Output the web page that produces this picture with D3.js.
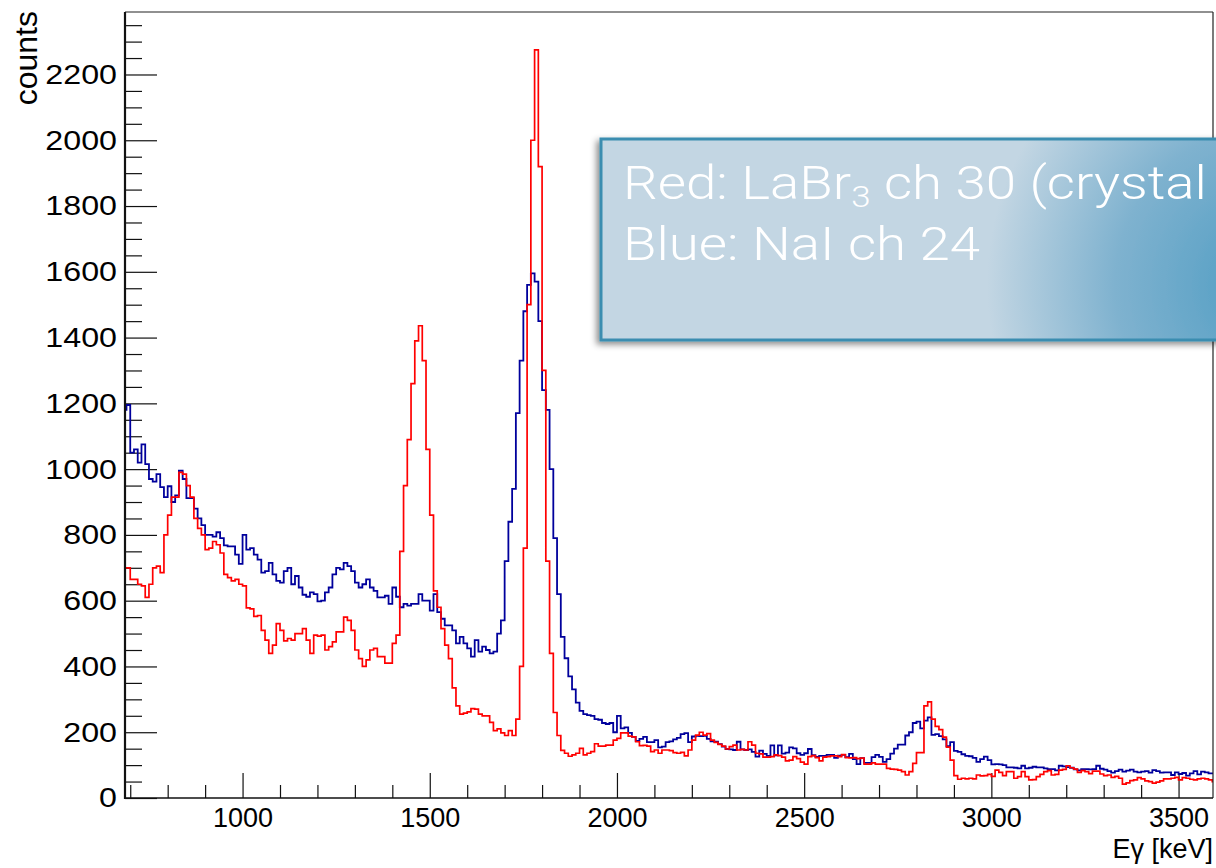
<!DOCTYPE html>
<html>
<head>
<meta charset="utf-8">
<script src="https://cdn.jsdelivr.net/npm/d3@7"></script>
<style>
body { margin: 0; background: #fff; }
svg text { font-family: "Liberation Sans", Arial, Helvetica, sans-serif; fill: #000; }
</style>
</head>
<body>
<svg id="chart" width="1216" height="868"></svg>
<script>

// histogram binning (keV)
var firstBinEdge = 680, binWidth = 10;

// LaBr3 ch 30, counts per 10 keV bin from 680 keV
var redCounts = [
  700, 700, 665, 665, 650, 645, 610, 650, 700, 705,
  685, 800, 860, 915, 915, 990, 985, 950, 915, 850,
  820, 800, 755, 760, 780, 770, 745, 680, 670, 660,
  665, 650, 645, 578, 575, 552, 555, 510, 480, 440,
  465, 530, 510, 478, 485, 480, 500, 500, 515, 480,
  440, 495, 492, 495, 450, 460, 475, 505, 505, 550,
  540, 510, 450, 424, 400, 420, 450, 455, 430, 430,
  410, 410, 470, 495, 750, 950, 1090, 1260, 1390, 1436,
  1330, 1060, 860, 630, 580, 515, 465, 424, 335, 280,
  255, 258, 262, 272, 270, 255, 250, 250, 230, 205,
  210, 198, 190, 205, 190, 240, 400, 760, 1500, 2000,
  2275, 1920, 1300, 720, 440, 260, 190, 145, 136, 127,
  131, 136, 151, 131, 136, 141, 165, 158, 158, 161,
  161, 176, 181, 198, 198, 188, 186, 171, 159, 160,
  158, 141, 146, 136, 146, 146, 144, 138, 136, 139,
  128, 146, 176, 191, 200, 191, 196, 176, 169, 163,
  158, 149, 156, 161, 146, 148, 146, 171, 161, 136,
  134, 124, 124, 126, 131, 129, 124, 113, 115, 126,
  120, 109, 103, 126, 129, 123, 113, 124, 126, 128,
  128, 126, 132, 123, 122, 123, 120, 121, 103, 103,
  107, 103, 103, 103, 90, 88, 87, 85, 80, 70,
  80, 105, 138, 138, 280, 292, 240, 218, 208, 185,
  155, 115, 68, 57, 60, 58, 60, 58, 70, 67,
  68, 72, 66, 85, 78, 68, 80, 80, 60, 65,
  80, 65, 55, 56, 65, 72, 80, 83, 70, 72,
  85, 87, 98, 92, 88, 78, 83, 80, 74, 82,
  82, 73, 68, 70, 63, 66, 60, 42, 46, 53,
  55, 62, 58, 52, 50, 45, 48, 52, 58, 58,
  60, 63, 55, 62, 60, 57, 55, 58, 60, 58,
  55, 50
];

// NaI ch 24, same binning
var blueCounts = [
  1180, 1195, 1050, 1060, 1020, 1075, 1015, 970, 962, 985,
  945, 915, 948, 900, 920, 995, 970, 912, 912, 880,
  850, 830, 800, 800, 795, 808, 790, 768, 765, 765,
  740, 712, 800, 755, 760, 740, 725, 685, 690, 715,
  680, 660, 655, 690, 700, 650, 675, 640, 618, 612,
  625, 620, 598, 600, 625, 640, 680, 700, 695, 715,
  705, 690, 655, 640, 650, 665, 640, 630, 610, 610,
  615, 590, 640, 612, 580, 590, 585, 590, 590, 620,
  600, 600, 570, 620, 565, 545, 525, 525, 510, 470,
  490, 470, 455, 430, 480, 445, 460, 450, 440, 445,
  500, 540, 720, 840, 940, 1170, 1330, 1480, 1560, 1595,
  1570, 1450, 1240, 1180, 1000, 790, 620, 490, 425, 370,
  330, 290, 265, 255, 252, 250, 240, 238, 228, 225,
  228, 200, 250, 212, 215, 198, 186, 174, 180, 186,
  170, 170, 176, 154, 156, 170, 172, 178, 183, 194,
  197, 170, 187, 189, 188, 189, 180, 172, 171, 164,
  156, 149, 148, 146, 171, 148, 146, 148, 140, 126,
  144, 134, 128, 160, 130, 160, 135, 138, 154, 151,
  136, 131, 136, 149, 130, 125, 128, 128, 131, 131,
  122, 129, 131, 124, 134, 118, 103, 121, 107, 107,
  124, 131, 125, 110, 118, 135, 150, 162, 162, 190,
  200, 228, 232, 212, 235, 245, 192, 194, 188, 178,
  158, 170, 143, 140, 133, 128, 127, 122, 110, 118,
  126, 115, 102, 103, 102, 100, 93, 93, 92, 90,
  98, 90, 92, 95, 93, 93, 90, 88, 88, 84,
  98, 96, 94, 92, 87, 84, 88, 88, 87, 88,
  98, 89, 86, 82, 77, 82, 86, 80, 83, 86,
  80, 78, 80, 82, 77, 85, 82, 77, 78, 78,
  70, 78, 73, 76, 68, 75, 82, 72, 80, 78,
  75, 75
];

var xMajorTicks = [1000, 1500, 2000, 2500, 3000, 3500];
var yMajorTicks = [0, 200, 400, 600, 800, 1000, 1200, 1400, 1600, 1800, 2000, 2200];
var xTitle = "E\u03b3 [keV]";
var yTitle = "counts";

var margin = {top: 12, right: 3, bottom: 70, left: 125},
width = 1216 - margin.left - margin.right,
height = 868 - margin.top - margin.bottom;

var x = d3.scaleLinear()
.domain([686, 3592])
.range([0, width]);

var y = d3.scaleLinear()
.domain([0, 2390])
.range([height, 0]);

var root = d3.select("#chart");

var defs = root.append("defs");
defs.append("clipPath")
.attr("id", "plotclip")
.append("rect")
.attr("x", 0).attr("y", -2)
.attr("width", width).attr("height", height + 2);

var svg = root.append("g")
.attr("transform", "translate(" + margin.left + "," + margin.top + ")");

// minor ticks first, majors on top
var yMinor = d3.range(0, 2390, 50).filter(function(v) { return v % 200 !== 0; });
var xMinor = d3.range(700, 3600, 100).filter(function(v) { return v % 500 !== 0; });

svg.append("g")
.attr("class", "axis axis--yminor")
.call(d3.axisLeft(y).tickValues(yMinor).tickSize(-17).tickFormat(""));

svg.append("g")
.attr("class", "axis axis--xminor")
.attr("transform", "translate(0," + height + ")")
.call(d3.axisBottom(x).tickValues(xMinor).tickSize(-13).tickFormat(""));

var yAxis = svg.append("g")
.attr("class", "axis axis--y")
.call(d3.axisLeft(y).tickValues(yMajorTicks).tickSize(-32).tickPadding(8)
    .tickFormat(d3.format("d")));

yAxis.selectAll("text")
.attr("x", -7)
.attr("transform", "scale(1.15,1)")
.style("font-size", "28px");

var xAxis = svg.append("g")
.attr("class", "axis axis--x")
.attr("transform", "translate(0," + height + ")")
.call(d3.axisBottom(x).tickValues(xMajorTicks).tickSize(-25).tickPadding(10)
    .tickFormat(d3.format("d")));

xAxis.selectAll("text")
.style("font-size", "27px");

svg.selectAll(".axis .domain").remove();
svg.selectAll(".axis line").attr("stroke", "#111").attr("stroke-width", 1.2);

// histograms
function steps(counts) {
    var pts = [];
    counts.forEach(function(c, i) {
        var lo = firstBinEdge + i * binWidth;
        pts.push([lo, c]);
        pts.push([lo + binWidth, c]);
    });
    return pts;
}

var line = d3.line()
.x(function(d) { return x(d[0]); })
.y(function(d) { return y(d[1]); });

var hists = svg.append("g").attr("clip-path", "url(#plotclip)");

hists.append("path")
.datum(steps(blueCounts))
.attr("d", line)
.attr("fill", "none")
.attr("stroke", "#00009c")
.attr("stroke-width", 1.8);

hists.append("path")
.datum(steps(redCounts))
.attr("d", line)
.attr("fill", "none")
.attr("stroke", "#ff0000")
.attr("stroke-width", 1.7);

// frame
svg.append("line").attr("x1", 0).attr("x2", width).attr("y1", 0).attr("y2", 0)
.attr("stroke", "#222").attr("stroke-width", 1.2);
svg.append("line").attr("x1", width).attr("x2", width).attr("y1", 0).attr("y2", height)
.attr("stroke", "#222").attr("stroke-width", 1.2);
svg.append("line").attr("x1", 0).attr("x2", width).attr("y1", height).attr("y2", height)
.attr("stroke", "#111").attr("stroke-width", 1.6);
svg.append("line").attr("x1", 0).attr("x2", 0).attr("y1", 0).attr("y2", height + 1)
.attr("stroke", "#111").attr("stroke-width", 2.2);

// axis titles
svg.append("text")
.attr("x", width)
.attr("y", height + 60)
.attr("text-anchor", "end")
.style("font-size", "27px")
.text(xTitle);

root.append("text")
.attr("transform", "translate(37,11) rotate(-90)")
.attr("text-anchor", "end")
.style("font-size", "32px")
.text(yTitle);

// text box pasted over the plot
var grad = defs.append("radialGradient")
.attr("id", "boxfill")
.attr("gradientUnits", "userSpaceOnUse")
.attr("cx", 1275).attr("cy", 285).attr("r", 320);
grad.append("stop").attr("offset", "0").attr("stop-color", "#4c9bc2");
grad.append("stop").attr("offset", "0.5").attr("stop-color", "#7fb2cf");
grad.append("stop").attr("offset", "0.9").attr("stop-color", "#c3d6e3");
grad.append("stop").attr("offset", "1").attr("stop-color", "#c3d6e3");

var shadow = defs.append("filter")
.attr("id", "boxshadow")
.attr("x", "-10%").attr("y", "-10%").attr("width", "130%").attr("height", "130%");
shadow.append("feDropShadow")
.attr("dx", -3).attr("dy", 3)
.attr("stdDeviation", 3)
.attr("flood-color", "#000")
.attr("flood-opacity", 0.45);

root.append("rect")
.attr("x", 601).attr("y", 139)
.attr("width", 640).attr("height", 201)
.attr("fill", "url(#boxfill)")
.attr("stroke", "#3a8db0")
.attr("stroke-width", 3)
.attr("filter", "url(#boxshadow)");

var legend = root.append("g").attr("class", "legend");

var l1 = legend.append("text")
.attr("x", 623).attr("y", 199)
.style("font-family", "Roboto, 'Open Sans', sans-serif")
.style("font-weight", 300)
.style("font-size", "47px")
.style("fill", "#fff");
l1.append("tspan").text("Red: LaBr");
l1.append("tspan").attr("dy", 8).style("font-size", "30px").text("3");
l1.append("tspan").attr("dy", -8).text(" ch 30 (crystal");

var l2 = legend.append("text")
.attr("x", 623).attr("y", 260)
.style("font-family", "Roboto, 'Open Sans', sans-serif")
.style("font-weight", 300)
.style("font-size", "47px")
.style("fill", "#fff")
.text("Blue: NaI ch 24");

// squeeze text horizontally to the width seen in the picture
var w1 = l1.node().getComputedTextLength();
var k = 584 / w1;
legend.selectAll("text")
.attr("transform", "translate(623,0) scale(" + k + ",1) translate(-623,0)");

</script>
</body>
</html>
